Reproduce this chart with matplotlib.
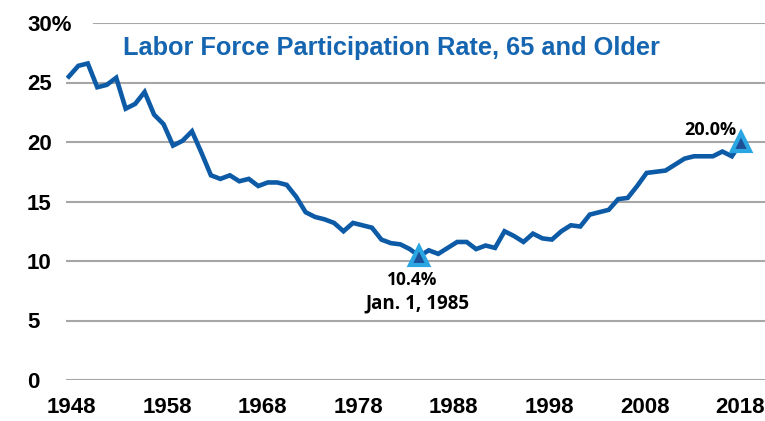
import matplotlib
matplotlib.use("Agg")
import matplotlib.pyplot as plt
import numpy as np

# data (annual, 1948-2019)
years = list(range(1948, 2020))
rate = [25.5, 26.4, 26.6, 24.6, 24.8, 25.4, 22.8, 23.2, 24.2, 22.3,
        21.5, 19.7, 20.1, 20.9, 19.1, 17.2, 16.9, 17.2, 16.7, 16.9,
        16.3, 16.6, 16.6, 16.4, 15.4, 14.1, 13.7, 13.5, 13.2, 12.5,
        13.2, 13.0, 12.8, 11.8, 11.5, 11.4, 11.0, 10.4, 10.9, 10.6,
        11.1, 11.6, 11.6, 11.0, 11.3, 11.1, 12.5, 12.1, 11.6, 12.3,
        11.9, 11.8, 12.5, 13.0, 12.9, 13.9, 14.1, 14.3, 15.2, 15.3,
        16.3, 17.4, 17.5, 17.6, 18.1, 18.6, 18.8, 18.8, 18.8, 19.2,
        18.8, 20.0]
ytick_vals = [0, 5, 10, 15, 20, 25, 30]
ytick_labels = ["0", "5", "10", "15", "20", "25", "30%"]
xtick_labels = ["1948", "1958", "1968", "1978", "1988", "1998", "2008", "2018"]

low_year, low_val = 1985, 10.4
high_year, high_val = 2019, 20.0

line_blue = "#0D5BA6"
title_blue = "#1565B0"
narrow = ["Liberation Sans Narrow", "Liberation Sans", "DejaVu Sans"]

fig = plt.figure(figsize=(7.65, 4.21), dpi=100)
ax = fig.add_axes([66 / 765, 41 / 421, 699 / 765, 357 / 421])

for v in ytick_vals:
    xmin = 0.04 if v == 30 else 0
    ax.axhline(v, xmin=xmin, color="#A6A6A6", lw=1.5, zorder=1)

ax.plot(years, rate, color=line_blue, lw=3.3, solid_joinstyle="miter", zorder=3)
ax.plot([low_year, high_year], [low_val, high_val], linestyle="none",
        marker="^", ms=13, mfc="#1C4F96", mec="#2AA6E3", mew=3, zorder=4)

ax.set_xlim(1947.7, 2021.5)
ax.set_ylim(0, 30)
for s in ax.spines.values():
    s.set_visible(False)

ax.set_yticks(ytick_vals)
ax.set_yticklabels(ytick_labels, fontfamily=narrow, fontweight="bold",
                   fontsize=16, ha="left")
ax.tick_params(axis="y", length=0, pad=28)

ax.set_xticks(np.linspace(1948.3, 2018.9, len(xtick_labels)))
ax.set_xticklabels(xtick_labels, fontfamily=narrow, fontweight="bold",
                   fontsize=16)
ax.tick_params(axis="x", length=0, pad=12)

ax.text(0.466, 0.93, "Labor Force Participation Rate, 65 and Older",
        transform=ax.transAxes, ha="center", va="center", color=title_blue,
        fontfamily=narrow, fontweight="bold", fontsize=18.3)

ann_font = ["Open Sans", "DejaVu Sans"]
ax.text(low_year - 0.8, low_val - 2.0, "10.4%", ha="center", va="center",
        fontfamily=ann_font, fontweight="bold", fontsize=12.5)
ax.text(low_year - 0.2, low_val - 4.0, "Jan. 1, 1985", ha="center", va="center",
        fontfamily=ann_font, fontweight="bold", fontsize=13.5)
ax.text(high_year - 0.5, high_val + 1.0, "20.0%", ha="right", va="center",
        fontfamily=ann_font, fontweight="bold", fontsize=13)

fig.savefig("out.png", dpi=100)
